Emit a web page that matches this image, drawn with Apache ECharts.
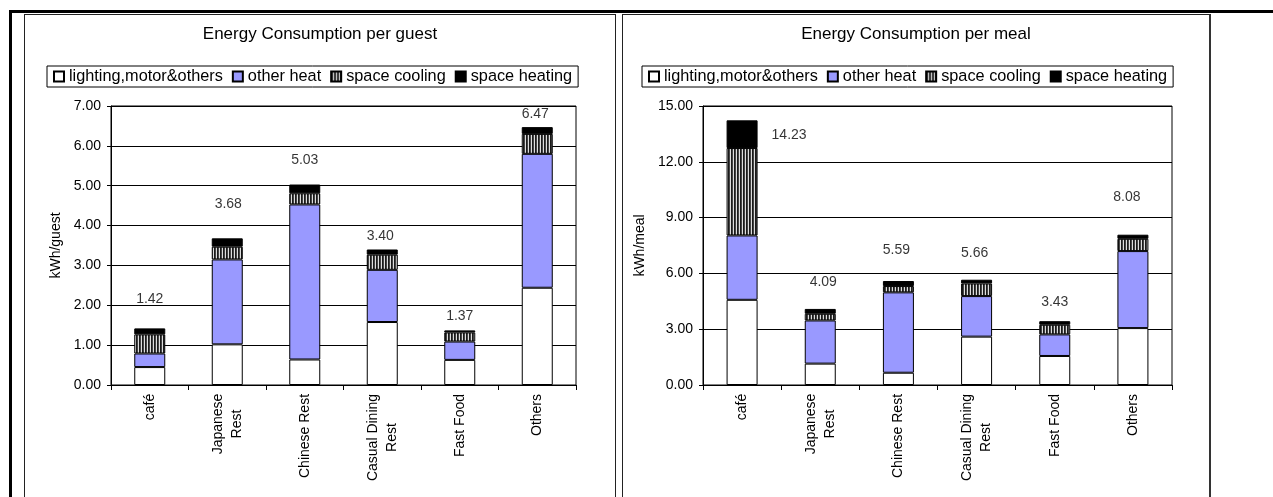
<!DOCTYPE html>
<html><head><meta charset="utf-8">
<script src="https://cdn.jsdelivr.net/npm/echarts@6/dist/echarts.min.js"></script>
<style>
html,body{margin:0;padding:0;background:#fff;width:1273px;height:497px;overflow:hidden;position:relative}
.hl{position:absolute;left:9px;top:10px;width:1264px;height:3px;background:#000}
.vl{position:absolute;left:9px;top:10px;width:3px;height:487px;background:#000}
.frame{position:absolute;top:14px;height:490px;border:1px solid #222;border-bottom:none;box-sizing:border-box}
#f1{left:24px;width:592px}
#f2{left:622px;width:589px;border-right:2px solid #333}
.chart{position:absolute;left:0;top:0;width:100%;height:100%}
</style></head>
<body>
<div class="hl"></div><div class="vl"></div>
<div class="frame" id="f1"><div class="chart" id="c1"></div></div>
<div class="frame" id="f2"><div class="chart" id="c2"></div></div>
<script>
// ---- data ----
const categories = ['café', 'Japanese\nRest', 'Chinese Rest', 'Casual Dining\nRest', 'Fast Food', 'Others'];
const seriesNames = ['lighting,motor&others', 'other heat', 'space cooling', 'space heating'];

const guestLighting  = [0.45, 1.02, 0.64, 1.58, 0.63, 2.44];
const guestOtherHeat = [0.34, 2.13, 3.89, 1.31, 0.46, 3.36];
const guestCooling   = [0.48, 0.32, 0.28, 0.38, 0.23, 0.50];
const guestHeating   = [0.15, 0.21, 0.22, 0.13, 0.05, 0.17];
const guestTotals    = [1.42, 3.68, 5.03, 3.40, 1.37, 6.47];

const mealLighting   = [4.58, 1.15, 0.66, 2.60, 1.56, 3.06];
const mealOtherHeat  = [3.46, 2.32, 4.32, 2.18, 1.16, 4.14];
const mealCooling    = [4.70, 0.36, 0.34, 0.68, 0.52, 0.66];
const mealHeating    = [1.49, 0.26, 0.27, 0.20, 0.19, 0.22];
const mealTotals     = [14.23, 4.09, 5.59, 5.66, 3.43, 8.08];

// ---- label placement (pixel offsets of the total labels, style only) ----
const guestLabelOffsets = [[0, -29], [1, -34], [0, -24], [-2, -13], [0, -14], [-2, -13]];
const mealLabelOffsets  = [[47, 15], [3, -27], [-2, -31], [-2, -27], [0, -19], [-6, -38]];

const FONT = '"Liberation Sans", Arial, Helvetica, sans-serif';

function stripePattern() {
  const c = document.createElement('canvas');
  c.width = 3; c.height = 4;
  const g = c.getContext('2d');
  g.fillStyle = '#dddddd'; g.fillRect(0, 0, 3, 4);
  g.fillStyle = '#1a1a1a'; g.fillRect(0, 0, 1, 4);
  g.fillStyle = '#444444'; g.fillRect(1, 0, 1, 4);
  return c;
}
const coolingFill = { image: stripePattern(), repeat: 'repeat' };
const fills = ['#ffffff', '#9999ff', coolingFill, '#000000'];

function catRich() {
  const ctx = document.createElement('canvas').getContext('2d');
  ctx.font = '14px "Liberation Sans"';
  const rich = {};
  categories.forEach((cat, i) => {
    const w = Math.max.apply(null, cat.split('\n').map(s => ctx.measureText(s).width));
    rich['c' + i] = { width: Math.ceil(w) + 1, align: 'center', fontFamily: FONT, fontSize: 14, color: '#000', lineHeight: 19 };
  });
  return rich;
}

function makeOption(cfg) {
  const stacks = [cfg.lighting, cfg.otherHeat, cfg.cooling, cfg.heating];
  const series = stacks.map((arr, k) => ({
    name: seriesNames[k],
    type: 'bar',
    stack: 'total',
    barWidth: 31,
    data: arr,
    itemStyle: { color: fills[k], borderColor: '#000', borderWidth: 1 },
    emphasis: { disabled: true }
  }));
  series.push({
    name: 'total',
    type: 'scatter',
    symbolSize: 1,
    itemStyle: { color: 'rgba(0,0,0,0)' },
    z: 5,
    data: cfg.totals.map((t, i) => ({
      value: t,
      label: { offset: cfg.offsets[i] }
    })),
    label: {
      show: true,
      position: 'inside',
      formatter: p => cfg.totals[p.dataIndex].toFixed(2),
      fontFamily: FONT, fontSize: 14, color: '#000'
    },
    emphasis: { disabled: true }
  });
  return {
    animation: false,
    backgroundColor: 'transparent',
    title: {
      text: cfg.title, left: 'center', top: 11, padding: 0,
      textStyle: { fontFamily: FONT, fontSize: 17, fontWeight: 'normal', color: '#000' }
    },
    legend: {
      data: seriesNames,
      left: cfg.legendLeft, top: 51,
      itemWidth: 10, itemHeight: 10, itemGap: 9,
      icon: 'rect',
      padding: [2, 6, 2, 6],
      borderColor: '#000', borderWidth: 1,
      selectedMode: false,
      textStyle: { fontFamily: FONT, fontSize: 16.3, color: '#000', lineHeight: 17 }
    },
    grid: {
      left: cfg.gridLeft, top: 91, width: cfg.gridWidth, height: 279,
      show: true, borderColor: '#000', borderWidth: 1, backgroundColor: 'transparent'
    },
    xAxis: {
      type: 'category',
      data: categories,
      axisLine: { lineStyle: { color: '#000', width: 1 } },
      axisTick: { show: true, length: 5, lineStyle: { color: '#000' } },
      axisLabel: {
        rotate: 90, interval: 0, margin: 8,
        fontFamily: FONT, fontSize: 14, color: '#000',
        formatter: (v, i) => v.split('\n').map(s => '{c' + i + '|' + s + '}').join('\n'),
        rich: catRich()
      }
    },
    yAxis: {
      type: 'value', min: 0, max: cfg.max, interval: cfg.interval,
      name: cfg.yName, nameLocation: 'middle', nameGap: cfg.nameGap,
      nameTextStyle: { fontFamily: FONT, fontSize: 14, color: '#000' },
      axisLine: { show: true, lineStyle: { color: '#000' } },
      axisTick: { show: true, length: 4, lineStyle: { color: '#000' } },
      axisLabel: { margin: 10, formatter: v => v.toFixed(2), fontFamily: FONT, fontSize: 14, color: '#000' },
      splitLine: { show: true, lineStyle: { color: '#000', width: 1 } }
    },
    series: series
  };
}

const c1 = echarts.init(document.getElementById('c1'), null, { renderer: 'canvas' });
c1.setOption(makeOption({
  title: 'Energy Consumption per guest',
  lighting: guestLighting, otherHeat: guestOtherHeat, cooling: guestCooling, heating: guestHeating,
  totals: guestTotals, offsets: guestLabelOffsets,
  legendLeft: 22, gridLeft: 86, gridWidth: 465,
  max: 7, interval: 1, yName: 'kWh/guest', nameGap: 47
}));

const c2 = echarts.init(document.getElementById('c2'), null, { renderer: 'canvas' });
c2.setOption(makeOption({
  title: 'Energy Consumption per meal',
  lighting: mealLighting, otherHeat: mealOtherHeat, cooling: mealCooling, heating: mealHeating,
  totals: mealTotals, offsets: mealLabelOffsets,
  legendLeft: 19, gridLeft: 80, gridWidth: 469,
  max: 15, interval: 3, yName: 'kWh/meal', nameGap: 49
}));
</script>
</body></html>
